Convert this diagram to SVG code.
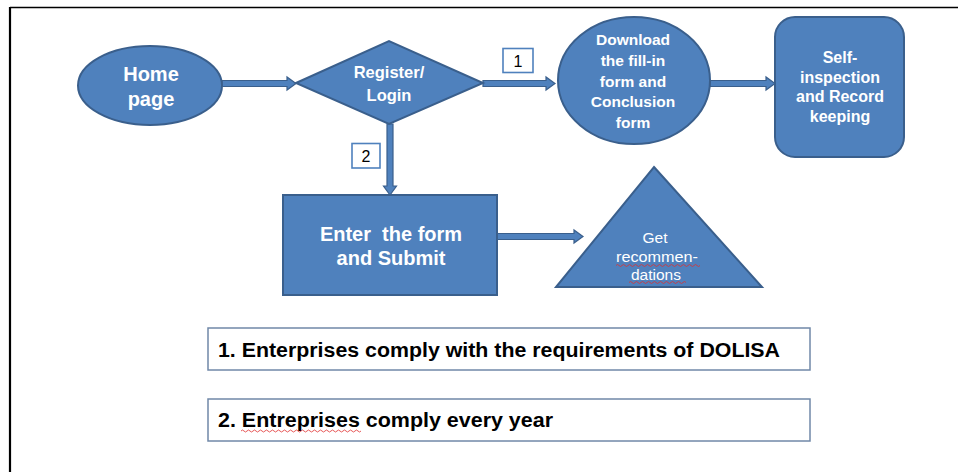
<svg xmlns="http://www.w3.org/2000/svg" width="958" height="472" viewBox="0 0 958 472">
<style>
.shape{fill:#4F81BD;stroke:#3A5F8C;stroke-width:2}
.arrow{fill:#4F81BD;stroke:#3A5F8C;stroke-width:1.2;stroke-linejoin:miter}
.wt{font-family:"Liberation Sans",Arial,sans-serif;font-weight:bold;fill:#FFFFFF;text-anchor:middle}
.wn{font-family:"Liberation Sans",Arial,sans-serif;font-size:15.5px;fill:#FFFFFF;text-anchor:middle}
.lbl{fill:#FFFFFF;stroke:#4F81BD;stroke-width:1.6}
.lt{font-family:"Liberation Sans",Arial,sans-serif;font-size:16px;fill:#000000;text-anchor:middle}
.note{fill:#FFFFFF;stroke:#7088A8;stroke-width:1.5}
.nt{font-family:"Liberation Sans",Arial,sans-serif;font-weight:bold;font-size:20px;fill:#000000}
.sq{fill:none;stroke:#E03030;stroke-width:0.8}
</style>
<rect x="0" y="0" width="958" height="472" fill="#FFFFFF"/>
<g id="frame">
<line x1="10" y1="7.5" x2="958" y2="7.5" stroke="#000" stroke-width="1.5"/>
<line x1="10" y1="7" x2="10" y2="472" stroke="#000" stroke-width="2.2"/>
</g>
<g id="connectors">
<polygon class="arrow" points="222,80.5 287,80.5 287,77 296,83.5 287,90 287,86.5 222,86.5"/>
<polygon class="arrow" points="483,80.5 546,80.5 546,77 555,83.5 546,90 546,86.5 483,86.5"/>
<polygon class="arrow" points="710,80.5 766,80.5 766,77 775,83.5 766,90 766,86.5 710,86.5"/>
<polygon class="arrow" points="387,124 393,124 393,186 396.5,186 390,195 383.5,186 387,186"/>
<polygon class="arrow" points="497,233.5 574,233.5 574,230 583,236.5 574,243 574,239.5 497,239.5"/>
<g id="label1"><rect class="lbl" x="503" y="48.5" width="30" height="24"/><text class="lt" x="518" y="67">1</text></g>
<g id="label2"><rect class="lbl" x="352" y="143.5" width="28" height="24.5"/><text class="lt" x="366" y="162">2</text></g>
</g>
<g id="home">
<ellipse class="shape" cx="150" cy="85.5" rx="72" ry="39.5"/>
<text class="wt" font-size="20" x="151" y="81">Home</text>
<text class="wt" font-size="20" x="151" y="106">page</text>
</g>
<g id="register">
<polygon class="shape" points="296,83 389,41 483,83 389,124"/>
<text class="wt" font-size="16.5" x="389" y="78">Register/</text>
<text class="wt" font-size="16.5" x="389" y="101">Login</text>
</g>
<g id="download">
<ellipse class="shape" cx="634" cy="80.5" rx="76" ry="63.5"/>
<text class="wt" font-size="15.5" x="633" y="45">Download</text>
<text class="wt" font-size="15.5" x="633" y="66">the fill-in</text>
<text class="wt" font-size="15.5" x="633" y="87">form and</text>
<text class="wt" font-size="15.5" x="633" y="107">Conclusion</text>
<text class="wt" font-size="15.5" x="633" y="128">form</text>
</g>
<g id="selfinspection">
<rect class="shape" x="775" y="17" width="129" height="140" rx="20" ry="20"/>
<text class="wt" font-size="16" x="840" y="63">Self-</text>
<text class="wt" font-size="16" x="840" y="83">inspection</text>
<text class="wt" font-size="16" x="840" y="102">and Record</text>
<text class="wt" font-size="16" x="840" y="122">keeping</text>
</g>
<g id="enter">
<rect class="shape" x="283" y="195" width="214" height="100"/>
<text class="wt" font-size="20" x="391" y="241" xml:space="preserve">Enter  the form</text>
<text class="wt" font-size="20" x="391" y="265">and Submit</text>
</g>
<g id="recommendations">
<polygon class="shape" points="654,167 762,287 556,287"/>
<text class="wn" x="655" y="243">Get</text>
<text class="wn" x="657" y="262" textLength="82" lengthAdjust="spacingAndGlyphs">recommen-</text>
<text class="wn" x="656" y="279.5">dations</text>
<path class="sq" d="M616,265.5 q1.5,-2 3,0 t3,0 t3,0 t3,0 t3,0 t3,0 t3,0 t3,0 t3,0 t3,0 t3,0 t3,0 t3,0 t3,0 t3,0 t3,0 t3,0 t3,0 t3,0 t3,0 t3,0 t3,0 t3,0 t3,0 t3,0 t3,0 t3,0 t3,0"/>
<path class="sq" d="M629,282.5 q1.5,-2 3,0 t3,0 t3,0 t3,0 t3,0 t3,0 t3,0 t3,0 t3,0 t3,0 t3,0 t3,0 t3,0 t3,0 t3,0 t3,0 t3,0 t3,0 t3,0"/>
</g>
<g id="note1">
<rect class="note" x="208" y="328" width="602" height="42"/>
<text class="nt" x="218" y="357" textLength="562" lengthAdjust="spacingAndGlyphs">1. Enterprises comply with the requirements of DOLISA</text>
</g>
<g id="note2">
<rect class="note" x="208" y="399" width="602" height="42"/>
<text class="nt" x="218" y="427" textLength="335" lengthAdjust="spacingAndGlyphs">2. Entreprises comply every year</text>
<path class="sq" d="M241,431 q1.5,-2 3,0 t3,0 t3,0 t3,0 t3,0 t3,0 t3,0 t3,0 t3,0 t3,0 t3,0 t3,0 t3,0 t3,0 t3,0 t3,0 t3,0 t3,0 t3,0 t3,0 t3,0 t3,0 t3,0 t3,0 t3,0 t3,0 t3,0 t3,0 t3,0 t3,0 t3,0 t3,0 t3,0 t3,0 t3,0 t3,0 t3,0 t3,0 t3,0 t3,0"/>
</g>
</svg>
